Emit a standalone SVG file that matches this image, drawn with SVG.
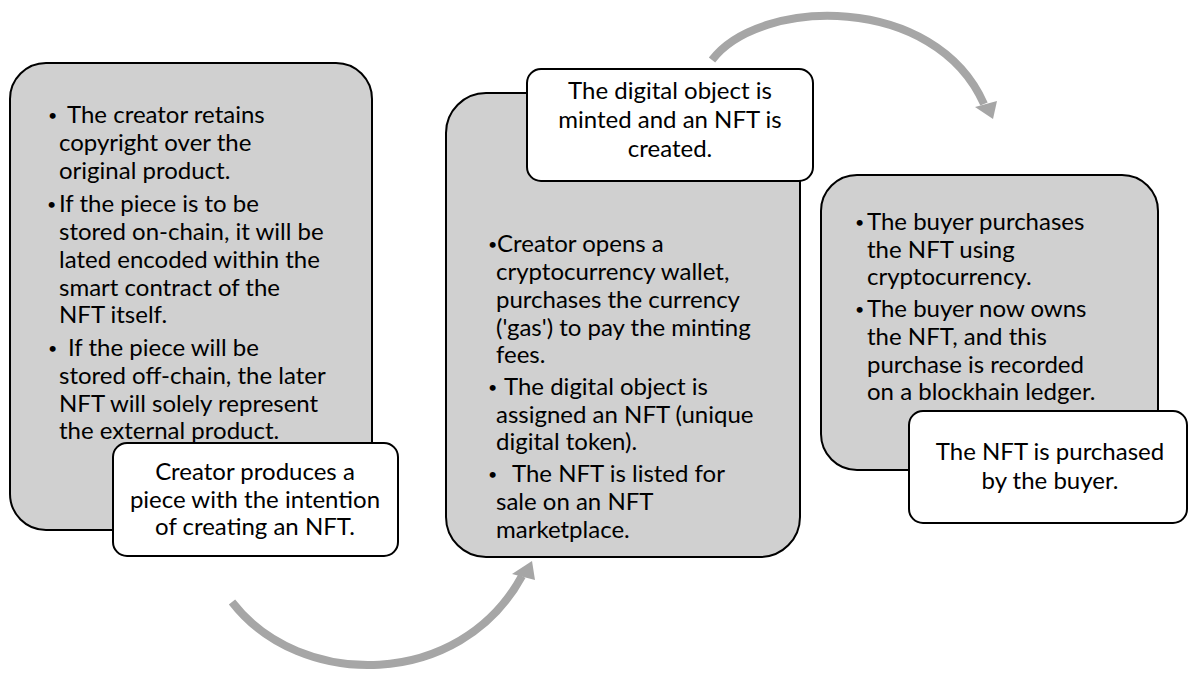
<svg xmlns="http://www.w3.org/2000/svg" width="1192" height="673" viewBox="0 0 1192 673">
<style>
.g{fill:#d0d0d0;stroke:#000;stroke-width:2}
.w{fill:#fff;stroke:#000;stroke-width:2}
text{font-family:Lato,"Liberation Sans",sans-serif;font-size:24px;fill:#000}
.b{font-size:16px}
.c{text-anchor:middle}
.arc{fill:none;stroke:#a6a6a6;stroke-width:8}
.head{fill:#a6a6a6}
</style>
<g id="connectors">
<path class="arc" d="M232,602 C300,690 460,690 522,576"/>
<polygon class="head" points="532,561 512,574 535,580"/>
<path class="arc" d="M712,60 C760,-3 935,-7 984,104"/>
<polygon class="head" points="993,119 975,107 997,101"/>
</g>
<g id="node1">
<rect class="g" x="10" y="63" width="362" height="467" rx="36"/>
<text class="b" x="48" y="121">•</text><text x="67" y="123">The creator retains</text>
<text x="59" y="151">copyright over the</text>
<text x="59" y="179">original product.</text>
<text class="b" x="47" y="210">•</text><text x="59" y="212">If the piece is to be</text>
<text x="59" y="240">stored on-chain, it will be</text>
<text x="59" y="268">lated encoded within the</text>
<text x="59" y="296">smart contract of the</text>
<text x="59" y="323">NFT itself.</text>
<text class="b" x="48" y="354">•</text><text x="68" y="356">If the piece will be</text>
<text x="59" y="384">stored off-chain, the later</text>
<text x="59" y="412">NFT will solely represent</text>
<text x="59" y="439">the external product.</text>
</g>
<g id="label1">
<rect class="w" x="113" y="443" width="285" height="113" rx="14"/>
<text class="c" x="255" y="480">Creator produces a</text>
<text class="c" x="255" y="508">piece with the intention</text>
<text class="c" x="255" y="535">of creating an NFT.</text>
</g>
<g id="node2">
<rect class="g" x="446" y="93" width="354" height="464" rx="40"/>
<text class="b" x="488" y="250">•</text><text x="497" y="252">Creator opens a</text>
<text x="496" y="280">cryptocurrency wallet,</text>
<text x="496" y="308">purchases the currency</text>
<text x="496" y="336">('gas') to pay the minting</text>
<text x="496" y="363">fees.</text>
<text class="b" x="488" y="393">•</text><text x="504" y="395">The digital object is</text>
<text x="496" y="423">assigned an NFT (unique</text>
<text x="496" y="450">digital token).</text>
<text class="b" x="488" y="480">•</text><text x="512" y="482">The NFT is listed for</text>
<text x="496" y="510">sale on an NFT</text>
<text x="496" y="538">marketplace.</text>
</g>
<g id="label2">
<rect class="w" x="527" y="69" width="286" height="112" rx="14"/>
<text class="c" x="670" y="99">The digital object is</text>
<text class="c" x="670" y="128">minted and an NFT is</text>
<text class="c" x="670" y="157">created.</text>
</g>
<g id="node3">
<rect class="g" x="821" y="175" width="337" height="295" rx="36"/>
<text class="b" x="855" y="228">•</text><text x="867" y="230">The buyer purchases</text>
<text x="867" y="258">the NFT using</text>
<text x="867" y="285">cryptocurrency.</text>
<text class="b" x="855" y="315">•</text><text x="867" y="317">The buyer now owns</text>
<text x="867" y="345">the NFT, and this</text>
<text x="867" y="373">purchase is recorded</text>
<text x="867" y="400">on a blockhain ledger.</text>
</g>
<g id="label3">
<rect class="w" x="909" y="411" width="278" height="112" rx="14"/>
<text class="c" x="1050" y="460">The NFT is purchased</text>
<text class="c" x="1050" y="489">by the buyer.</text>
</g>
</svg>
